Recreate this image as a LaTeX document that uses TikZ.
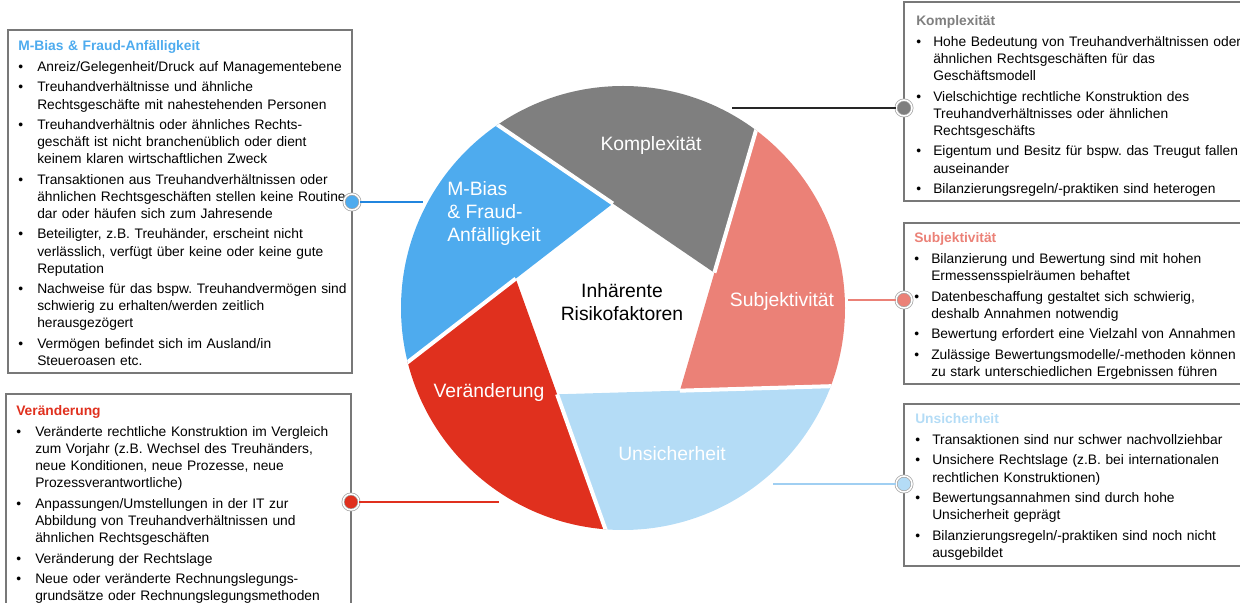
\documentclass[tikz,border=0pt]{standalone}
\usepackage{fontspec}
\setmainfont{Liberation Sans}
\usetikzlibrary{calc}
\definecolor{mbias}{RGB}{78,171,238}
\definecolor{mbiasline}{RGB}{33,133,222}
\definecolor{komplex}{RGB}{127,127,127}
\definecolor{subjekt}{RGB}{235,129,119}
\definecolor{unsicher}{RGB}{180,220,246}
\definecolor{unsicherline}{RGB}{160,207,242}
\definecolor{veraend}{RGB}{224,48,30}
\definecolor{rahmen}{RGB}{120,120,120}
\newlength{\pktind}
\setlength{\pktind}{14.25pt}
\newcommand{\pkt}{\par\vspace{2.5pt}\hangindent=\pktind\hangafter=1\noindent\makebox[\pktind][l]{\textbullet}}

\begin{document}
\begin{tikzpicture}[x=0.75pt,y=0.75pt,
	textbox/.style={anchor=base west,inner sep=0pt,text width=330pt,font=\fontsize{10.35}{12.85}\selectfont\frenchspacing},
	segtext/.style={inner sep=0pt,text=white,font=\fontsize{14.5}{17.25}\selectfont},
	spalt/.style={white,line width=3pt},
	kasten/.style={draw=rahmen,line width=0.9pt},
	knopf/.style={circle,inner sep=0pt,minimum size=12pt,fill=#1,draw=gray!70,double=white,double distance=1.1pt,line width=0.55pt},
	verbinder/.style={line width=1.1pt}]
\clip (0,0) rectangle (1240,603);

\coordinate (O) at (623,295);
\coordinate (P) at (616,295);
\coordinate (Va) at ($(P)+(91.7:104.5)$);
\coordinate (Vb) at ($(P)+(19.7:104.5)$);
\coordinate (Vc) at ($(P)+(-52.3:104.5)$);
\coordinate (Vd) at ($(P)+(-124.3:104.5)$);
\coordinate (Ve) at ($(P)+(163.7:104.5)$);
\begin{scope}
	\clip (O) circle[radius=222];
	\fill[mbias] (Va) -- ($(Va)!500pt!(Ve)$) -- ($(Va)!-500pt!(Vb)$) -- cycle;
	\fill[komplex] (Vb) -- ($(Vb)!500pt!(Va)$) -- ($(Vb)!-500pt!(Vc)$) -- cycle;
	\fill[subjekt] (Vc) -- ($(Vc)!500pt!(Vb)$) -- ($(Vc)!-500pt!(Vd)$) -- cycle;
	\fill[unsicher] (Vd) -- ($(Vd)!500pt!(Vc)$) -- ($(Vd)!-500pt!(Ve)$) -- cycle;
	\fill[veraend] (Ve) -- ($(Ve)!500pt!(Vd)$) -- ($(Ve)!-500pt!(Va)$) -- cycle;
	\draw[spalt] (Va) -- ($(Va)!-500pt!(Vb)$);
	\draw[spalt] (Vb) -- ($(Vb)!-500pt!(Vc)$);
	\draw[spalt] (Vc) -- ($(Vc)!-500pt!(Vd)$);
	\draw[spalt] (Vd) -- ($(Vd)!-500pt!(Ve)$);
	\draw[spalt] (Ve) -- ($(Ve)!-500pt!(Va)$);
\end{scope}

\node[segtext] (lblKomplex) at (651,457) {Komplexität};
\node[segtext,align=left,anchor=west] (lblMBias) at (447,389) {M-Bias\\\& Fraud-\\Anfälligkeit};
\node[segtext] (lblSubjekt) at (782,301) {Subjektivität};
\node[segtext] (lblUnsicher) at (672,149) {Unsicherheit};
\node[segtext] (lblVeraend) at (489,210) {Veränderung};
\node[inner sep=0pt,align=center,font=\fontsize{14.5}{17.25}\selectfont] (zentrum) at (622,301) {Inhärente\\Risikofaktoren};

\draw[kasten] (8,573) rectangle (352,230);
\draw[kasten] (6,209) rectangle (351,-10);
\draw[kasten] (904,601) rectangle (1250,402);
\draw[kasten] (904,380) rectangle (1250,219);
\draw[kasten] (904,199) rectangle (1250,37);

\node[textbox] (txtMBias) at (18,552) {\textbf{\color{mbias}M-Bias \& Fraud-Anfälligkeit}
	\pkt Anreiz/Gelegenheit/Druck auf Managementebene
	\pkt Treuhandverhältnisse und ähnliche\newline Rechtsgeschäfte mit nahestehenden Personen
	\pkt Treuhandverhältnis oder ähnliches Rechts-\newline geschäft ist nicht branchenüblich oder dient\newline keinem klaren wirtschaftlichen Zweck
	\pkt Transaktionen aus Treuhandverhältnissen oder\newline ähnlichen Rechtsgeschäften stellen keine Routine\newline dar oder häufen sich zum Jahresende
	\pkt Beteiligter, z.B. Treuhänder, erscheint nicht\newline verlässlich, verfügt über keine oder keine gute\newline Reputation
	\pkt Nachweise für das bspw. Treuhandvermögen sind\newline schwierig zu erhalten/werden zeitlich\newline herausgezögert
	\pkt Vermögen befindet sich im Ausland/in\newline Steueroasen etc.\par};
\node[textbox] (txtVeraend) at (16,187) {\textbf{\color{veraend}Veränderung}
	\pkt Veränderte rechtliche Konstruktion im Vergleich\newline zum Vorjahr (z.B. Wechsel des Treuhänders,\newline neue Konditionen, neue Prozesse, neue\newline Prozessverantwortliche)
	\pkt Anpassungen/Umstellungen in der IT zur\newline Abbildung von Treuhandverhältnissen und\newline ähnlichen Rechtsgeschäften
	\pkt Veränderung der Rechtslage
	\pkt Neue oder veränderte Rechnungslegungs-\newline grundsätze oder Rechnungslegungsmethoden\par};
\node[textbox] (txtKomplex) at (916,577) {\setlength{\pktind}{12.75pt}\textbf{\color{komplex}Komplexität}
	\pkt Hohe Bedeutung von Treuhandverhältnissen oder\newline ähnlichen Rechtsgeschäften für das\newline Geschäftsmodell
	\pkt Vielschichtige rechtliche Konstruktion des\newline Treuhandverhältnisses oder ähnlichen\newline Rechtsgeschäfts
	\pkt Eigentum und Besitz für bspw. das Treugut fallen\newline auseinander
	\pkt Bilanzierungsregeln/-praktiken sind heterogen\par};
\node[textbox] (txtSubjekt) at (914,360) {\setlength{\pktind}{12.75pt}\textbf{\color{subjekt}Subjektivität}
	\pkt Bilanzierung und Bewertung sind mit hohen\newline Ermessensspielräumen behaftet
	\pkt Datenbeschaffung gestaltet sich schwierig,\newline deshalb Annahmen notwendig
	\pkt Bewertung erfordert eine Vielzahl von Annahmen
	\pkt Zulässige Bewertungsmodelle/-methoden können\newline zu stark unterschiedlichen Ergebnissen führen\par};
\node[textbox] (txtUnsicher) at (915,179) {\setlength{\pktind}{12.75pt}\textbf{\color{unsicher}Unsicherheit}
	\pkt Transaktionen sind nur schwer nachvollziehbar
	\pkt Unsichere Rechtslage (z.B. bei internationalen\newline rechtlichen Konstruktionen)
	\pkt Bewertungsannahmen sind durch hohe\newline Unsicherheit geprägt
	\pkt Bilanzierungsregeln/-praktiken sind noch nicht\newline ausgebildet\par};

\node[knopf=mbias] (dotMBias) at (352,401) {};
\node[knopf=veraend] (dotVeraend) at (351,101) {};
\node[knopf=komplex] (dotKomplex) at (904,495) {};
\node[knopf=subjekt] (dotSubjekt) at (904,303) {};
\node[knopf=unsicher] (dotUnsicher) at (904,119) {};
\coordinate (endMBias) at (423,401);
\coordinate (endVeraend) at (499,101);
\coordinate (endKomplex) at (732,495);
\coordinate (endSubjekt) at (848,303);
\coordinate (endUnsicher) at (773,119);
\draw[verbinder,mbiasline] (dotMBias) -- (endMBias);
\draw[verbinder,veraend] (dotVeraend) -- (endVeraend);
\draw[verbinder,black!85] (dotKomplex) -- (endKomplex);
\draw[verbinder,subjekt] (dotSubjekt) -- (endSubjekt);
\draw[verbinder,unsicherline] (dotUnsicher) -- (endUnsicher);
\end{tikzpicture}
\end{document}
